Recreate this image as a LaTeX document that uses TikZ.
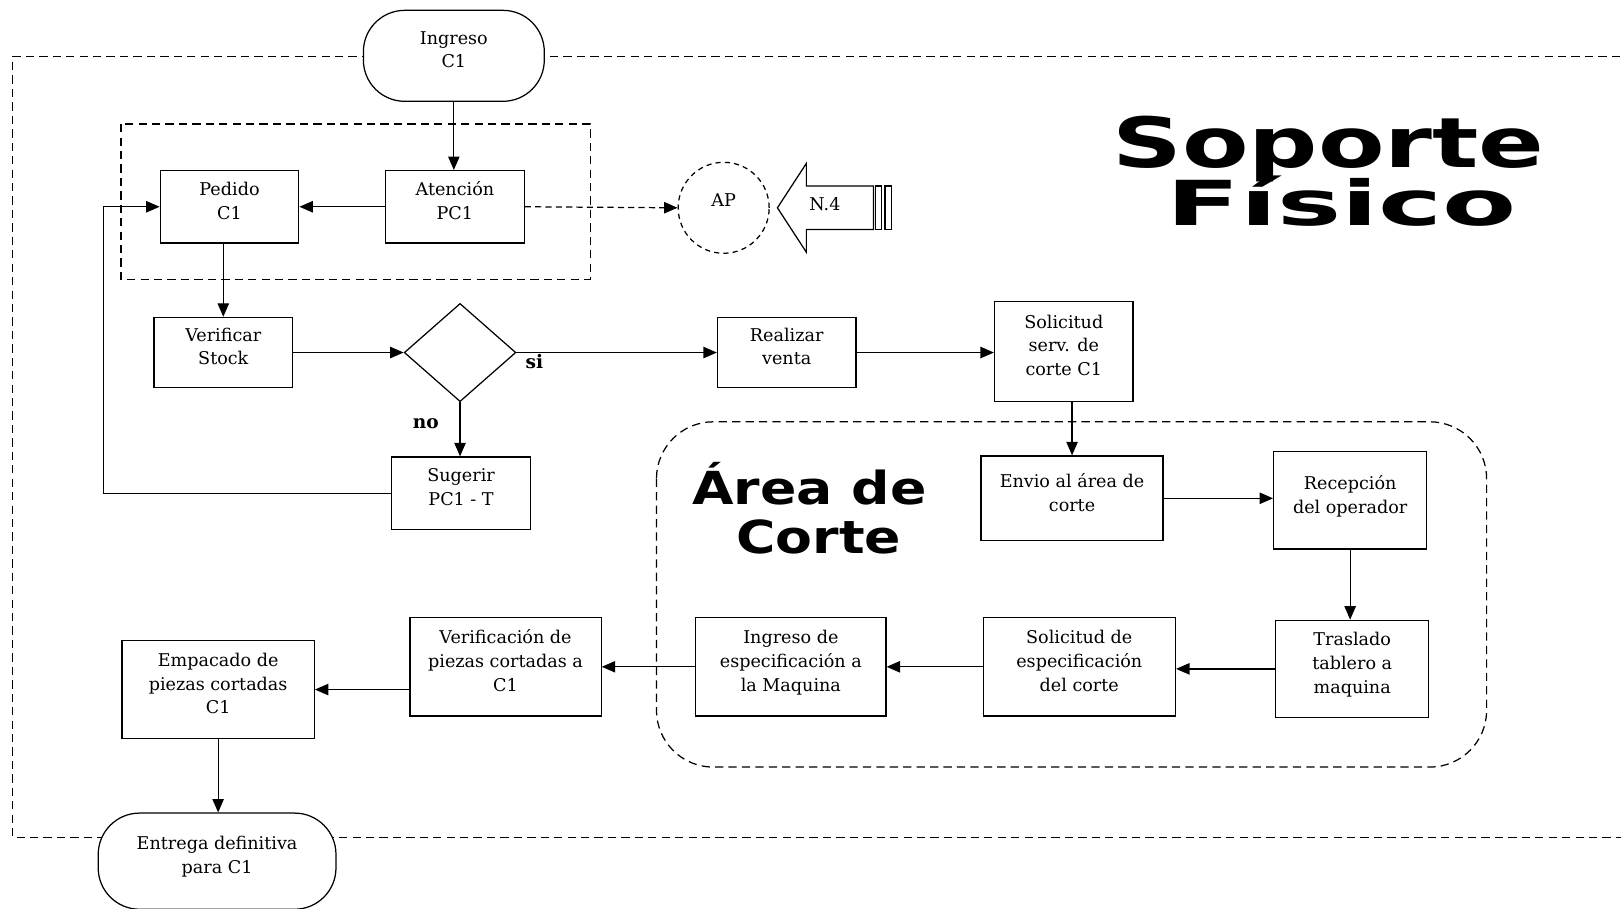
\documentclass[tikz,border=0pt]{standalone}
\usepackage{fontspec}
\setmainfont{DejaVu Serif}
\newfontfamily\titlefont{DejaVu Sans}
\usetikzlibrary{arrows.meta}
\usetikzlibrary{shapes.geometric}
\usetikzlibrary{calc}

\tikzset{%
    box/.style={draw, line width=1.2pt, fill=white, align=center, inner sep=0pt,
        font=\fontsize{17}{23}\selectfont, text depth=12pt},
    term/.style={box, rounded corners=40pt},
    conn/.style={line width=1.2pt, -{Triangle[length=13pt,width=11pt]}},
    frame/.style={line width=1.2pt, dash pattern=on 8pt off 5pt},
    answer/.style={font=\fontsize{18}{20}\selectfont\bfseries},
    title/.style={anchor=base, font=\titlefont\bfseries},
}

\begin{document}
\begin{tikzpicture}[x=1pt,y=-1pt]
\useasboundingbox (0,0) rectangle (1568,879);
\draw [frame] (1580,55) -- (12,55) -- (12,810) -- (1580,810);
\draw [frame] (117,120) rectangle (571,270);
\draw [frame, rounded corners=55pt] (635,408) rectangle (1438,742);
\node (ingreso) [term, minimum width=175, minimum height=88] at (439,54) {Ingreso\\C1};
\node (pedido) [box, minimum width=134, minimum height=70] at (222,200) {Pedido\\C1};
\node (atencion) [box, minimum width=134, minimum height=70] at (440,200) {Atención\\PC1};
\node (ap) [draw, circle, line width=1.2pt, dash pattern=on 5pt off 4pt,
    minimum size=88, font=\fontsize{17}{23}\selectfont, text depth=14pt] at (700,201) {AP};
\draw [line width=1.2pt, fill=white] (752,201) -- (780,158) -- (780,180) -- (845,180)
    -- (845,222) -- (780,222) -- (780,244) -- cycle;
\draw [line width=1.2pt] (847,180) rectangle (853,222);
\draw [line width=1.2pt] (856,180) rectangle (862,222);
\node (n4) [font=\fontsize{17}{23}\selectfont] at (798,197) {N.4};
\node (verificar) [box, minimum width=134, minimum height=68] at (216,341) {Verificar\\Stock};
\node (stock) [draw, diamond, line width=1.2pt, minimum width=108, minimum height=95,
    inner sep=0pt] at (445,341) {};
\node (si) [answer] at (517,350) {si};
\node (no) [answer] at (412,410) {no};
\node (venta) [box, minimum width=134, minimum height=68] at (761,341) {Realizar\\venta};
\node (servicio) [box, minimum width=134, minimum height=96] at (1029,340) {Solicitud\\serv. de\\corte C1};
\node (sugerir) [box, minimum width=134, minimum height=70] at (446,477) {Sugerir\\PC1 - T};
\node (envio) [box, minimum width=176, minimum height=82] at (1037,482) {Envio al área de\\corte};
\node (recepcion) [box, minimum width=148, minimum height=94] at (1306,484) {Recepción\\del operador};
\node (traslado) [box, minimum width=148, minimum height=94] at (1308,647) {Traslado\\tablero a\\maquina};
\node (especif) [box, minimum width=186, minimum height=95] at (1044,645) {Solicitud de\\especificación\\del corte};
\node (maquina) [box, minimum width=184, minimum height=95] at (765,645) {Ingreso de\\especificación a\\la Maquina};
\node (piezas) [box, minimum width=185, minimum height=95] at (489,645) {Verificación de\\piezas cortadas a\\C1};
\node (empacado) [box, minimum width=186, minimum height=95] at (211,667) {Empacado de\\piezas cortadas\\C1};
\node (entrega) [term, minimum width=230, minimum height=93] at (210,833) {Entrega definitiva\\para C1};
\node (area) [title, font=\titlefont\bfseries\fontsize{44}{44}\selectfont] at (783,488) {\scalebox{1.18}[1]{Área de}};
\node (corte) [title, font=\titlefont\bfseries\fontsize{44}{44}\selectfont] at (792,535) {\scalebox{1.18}[1]{Corte}};
\node (soporte) [title, font=\titlefont\bfseries\fontsize{67}{67}\selectfont] at (1285,162) {\scalebox{1.4}[1]{Soporte}};
\node (fisico) [title, font=\titlefont\bfseries\fontsize{60}{60}\selectfont] at (1298,218) {\scalebox{1.74}[1]{Físico}};
\coordinate (loop) at (100,477);
\draw [conn] (ingreso.south) -- (ingreso.south |- atencion.north);
\draw [conn] (atencion.west) -- (pedido.east);
\draw [conn, dash pattern=on 6pt off 4pt] (atencion.east) -- (ap.west);
\draw [conn] (verificar.north |- pedido.south) -- (verificar.north);
\draw [conn] (verificar.east) -- (stock.west);
\draw [conn] (stock.east) -- (venta.west);
\draw [conn] (venta.east) -- (venta.east -| servicio.west);
\draw [conn] (stock.south) -- (stock.south |- sugerir.north);
\draw [conn] (sugerir.west) -- (loop) |- (pedido.west);
\draw [conn] (envio.north |- servicio.south) -- (envio.north);
\draw [conn] (envio.east) -- (envio.east -| recepcion.west);
\draw [conn] (recepcion.south) -- (recepcion.south |- traslado.north);
\draw [conn] (traslado.west) -- (traslado.west -| especif.east);
\draw [conn] (especif.west) -- (maquina.east);
\draw [conn] (maquina.west) -- (piezas.east);
\draw [conn] (piezas.west |- empacado.east) -- (empacado.east);
\draw [conn] (empacado.south) -- (empacado.south |- entrega.north);
\end{tikzpicture}
\end{document}
